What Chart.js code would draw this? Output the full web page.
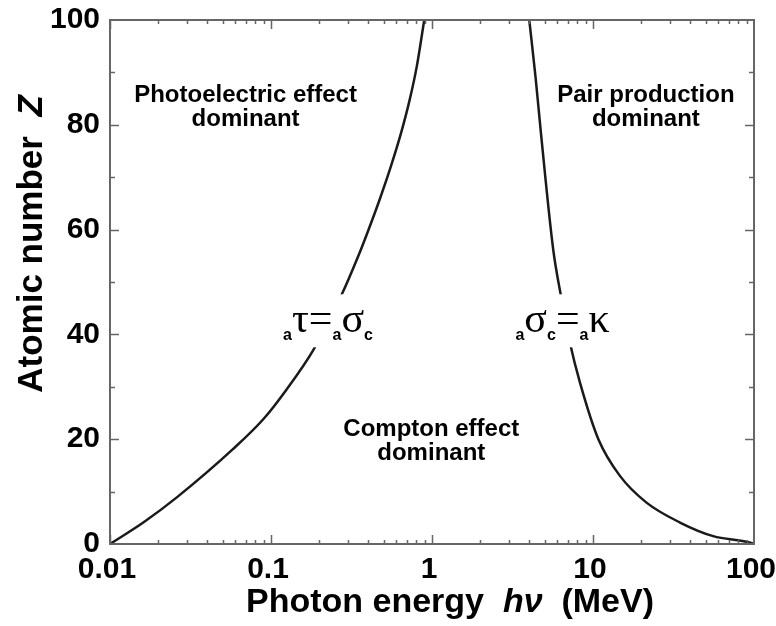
<!DOCTYPE html>
<html>
<head>
<meta charset="utf-8">
<script src="https://cdn.jsdelivr.net/npm/chart.js@4.4.1/dist/chart.umd.min.js"></script>
<style>
  html, body { margin: 0; padding: 0; background: #fff; }
  #wrap { width: 776px; height: 626px; }
</style>
</head>
<body>
<div id="wrap"><canvas id="zChart" width="776" height="626"></canvas></div>
<script>
// boundary where photoelectric and Compton cross sections are equal
const photoEnergy = [0.01, 0.0161, 0.026, 0.058, 0.0895, 0.125, 0.183, 0.275, 0.348, 0.397, 0.4725, 0.556, 0.642, 0.727, 0.804, 0.895];
const photoZ      = [0,    4.1,    8.9,   18.1,  23.8,   29.5,  37.0,  47.6,  54.9,  59.4,  65.7,   72.1,  78.4,  84.8,  91.1,  100];

// boundary where Compton and pair production cross sections are equal
const pairEnergy = [4.02, 4.4, 4.75, 5.66, 6.3,  7.19, 8.3,  10.8, 14.7, 21.5, 34.7, 55.8, 94,  100];
const pairZ      = [100,  89,  78.4, 56.2, 47.6, 38.4, 30.8, 20,   13,   7.9,  4.1,  1.5,  0.3, 0];

const xTickValues = [0.01, 0.1, 1, 10, 100];
const xTickLabels = ['0.01', '0.1', '1', '10', '100'];
const yTickValues = [0, 20, 40, 60, 80, 100];

const regionNames = [
  ['Photoelectric effect', 'dominant'],
  ['Pair production', 'dominant'],
  ['Compton effect', 'dominant']
];
const regionEnergy = [0.0695, 21.3, 0.99];
const regionZ      = [84.4, 84.4, 20.6];

const equationParts = [
  [['a', 'sub'], ['τ', 'sym'], ['=', 'sym'], ['a', 'sub'], ['σ', 'sym'], ['c', 'sub']],
  [['a', 'sub'], ['σ', 'sym'], ['c', 'sub'], ['=', 'sym'], ['a', 'sub'], ['κ', 'sym']]
];
const equationEnergy = [0.226, 6.47];
const equationZ      = [40.4, 40.4];

const SANS = '"Liberation Sans", Arial, Helvetica, sans-serif';
const SERIF = '"Liberation Serif", "Times New Roman", serif';
const axisColor = '#666';

function drawParts(ctx, parts, x, y) {
  // parts: [[text, fontString, dy]]
  let w = 0;
  parts.forEach(p => { ctx.font = p[1]; w += ctx.measureText(p[0]).width; });
  let cx = x - w / 2;
  parts.forEach(p => {
    ctx.font = p[1];
    ctx.fillText(p[0], cx, y + (p[2] || 0));
    cx += ctx.measureText(p[0]).width;
  });
  return w;
}

const overlayPlugin = {
  id: 'overlay',
  afterDatasetsDraw(chart) {
    const ctx = chart.ctx;
    const xs = chart.scales.x, ys = chart.scales.y;
    ctx.save();
    ctx.textBaseline = 'alphabetic';
    ctx.fillStyle = '#000';

    // region labels
    ctx.textAlign = 'center';
    ctx.font = 'bold 24px ' + SANS;
    regionNames.forEach((lines, i) => {
      const px = xs.getPixelForValue(regionEnergy[i]);
      const py = ys.getPixelForValue(regionZ[i]);
      lines.forEach((t, j) => ctx.fillText(t, px, py + j * 24));
    });

    // equation labels sit on a white patch that breaks the curves
    ctx.textAlign = 'left';
    equationParts.forEach((parts, i) => {
      const px = xs.getPixelForValue(equationEnergy[i]);
      const py = ys.getPixelForValue(equationZ[i]);
      const styled = parts.map(p => p[1] === 'sub'
        ? [p[0], 'bold 16px ' + SANS, 8]
        : [p[0], '42px ' + SERIF, 0]);
      let w = 0;
      styled.forEach(p => { ctx.font = p[1]; w += ctx.measureText(p[0]).width; });
      ctx.fillStyle = '#fff';
      ctx.fillRect(px - w / 2 - 2, py - 38, w + 4, 53);
      ctx.fillStyle = '#000';
      drawParts(ctx, styled, px, py);
    });
    ctx.restore();
  },
  afterDraw(chart) {
    const ctx = chart.ctx;
    const a = chart.chartArea;
    const xs = chart.scales.x, ys = chart.scales.y;
    ctx.save();
    ctx.strokeStyle = axisColor;
    ctx.lineWidth = 2;
    ctx.strokeRect(a.left, a.top, a.right - a.left, a.bottom - a.top);

    // inward tick marks on all four sides
    ctx.lineWidth = 1.5;
    ctx.beginPath();
    for (let d = 0.01; d < 100; d *= 10) {
      for (let m = 1; m <= 9; m++) {
        const px = Math.round(xs.getPixelForValue(d * m)) + 0.5;
        const len = m === 1 ? 9 : 4;
        ctx.moveTo(px, a.bottom); ctx.lineTo(px, a.bottom - len);
        ctx.moveTo(px, a.top); ctx.lineTo(px, a.top + len);
      }
    }
    for (let v = 10; v < 100; v += 10) {
      const py = Math.round(ys.getPixelForValue(v)) + 0.5;
      const len = v % 20 === 0 ? 9 : 5;
      ctx.moveTo(a.left, py); ctx.lineTo(a.left + len, py);
      ctx.moveTo(a.right, py); ctx.lineTo(a.right - len, py);
    }
    ctx.stroke();

    // axis titles (mixed upright / italic)
    ctx.fillStyle = '#000';
    ctx.textAlign = 'left';
    ctx.textBaseline = 'alphabetic';
    drawParts(ctx, [
      ['Photon energy  ', 'bold 34px ' + SANS],
      ['hν', 'italic bold 34px ' + SANS],
      ['  (MeV)', 'bold 34px ' + SANS]
    ], (a.left + a.right) / 2 + 18, a.bottom + 68);

    ctx.translate(42, (a.top + a.bottom) / 2 - 38);
    ctx.rotate(-Math.PI / 2);
    drawParts(ctx, [
      ['Atomic number  ', 'bold 35px ' + SANS],
      ['Z', 'italic bold 35px ' + SANS]
    ], 0, 0);
    ctx.restore();
  }
};

const tickFont = { family: SANS, weight: 'bold', size: 30 };

new Chart(document.getElementById('zChart').getContext('2d'), {
  type: 'scatter',
  data: {
    datasets: [
      {
        data: photoEnergy.map((e, i) => ({ x: e, y: photoZ[i] })),
        showLine: true,
        borderColor: '#1a1a1a',
        borderWidth: 2.5,
        pointRadius: 0,
        cubicInterpolationMode: 'monotone'
      },
      {
        data: pairEnergy.map((e, i) => ({ x: e, y: pairZ[i] })),
        showLine: true,
        borderColor: '#1a1a1a',
        borderWidth: 2.5,
        pointRadius: 0,
        cubicInterpolationMode: 'monotone'
      }
    ]
  },
  options: {
    responsive: false,
    animation: false,
    devicePixelRatio: 1,
    layout: { padding: { top: 20, right: 22, left: 0, bottom: 0 } },
    plugins: {
      legend: { display: false },
      tooltip: { enabled: false }
    },
    scales: {
      x: {
        type: 'logarithmic',
        min: 0.01,
        max: 100,
        grid: { display: false, drawTicks: false },
        border: { display: false },
        afterBuildTicks: s => { s.ticks = xTickValues.map(v => ({ value: v })); },
        afterFit: s => { s.height = 82; s.paddingLeft = 0; s.paddingRight = 0; },
        ticks: {
          autoSkip: false,
          maxRotation: 0,
          padding: 8,
          labelOffset: -3,
          color: '#000',
          font: tickFont,
          callback: (v, i) => xTickLabels[i]
        }
      },
      y: {
        min: 0,
        max: 100,
        grid: { display: false, drawTicks: false },
        border: { display: false },
        afterBuildTicks: s => { s.ticks = yTickValues.map(v => ({ value: v })); },
        afterFit: s => { s.width = 110; s.paddingTop = 0; s.paddingBottom = 0; },
        ticks: {
          padding: 10,
          color: '#000',
          font: tickFont
        }
      }
    }
  },
  plugins: [overlayPlugin]
});
</script>
</body>
</html>
